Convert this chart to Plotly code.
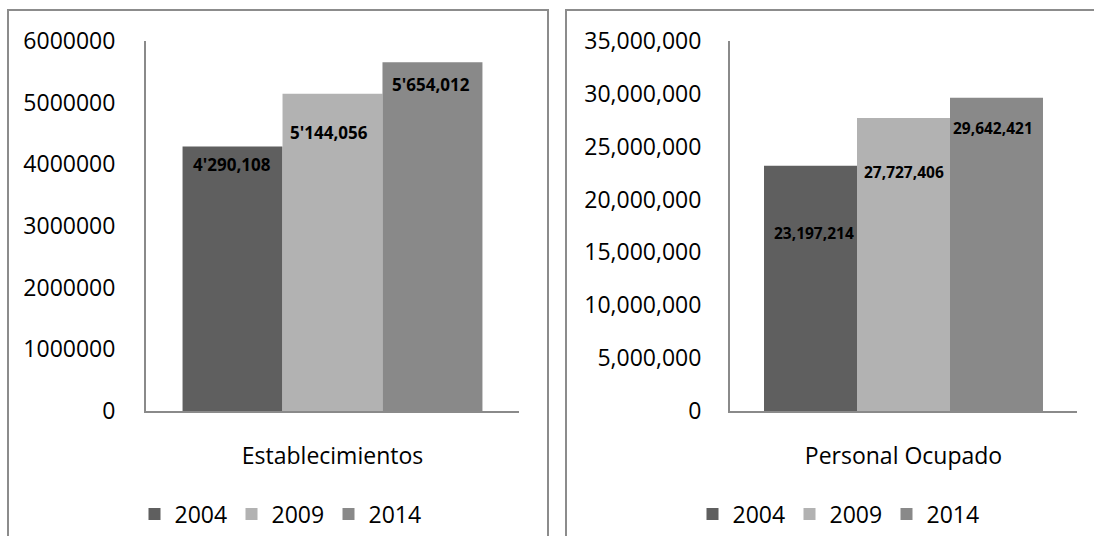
import plotly.graph_objects as go

# Data
years = ["2004", "2009", "2014"]
establecimientos = [4290108, 5144056, 5654012]
personal_ocupado = [23197214, 27727406, 29642421]
cat_left = "Establecimientos"
cat_right = "Personal Ocupado"
colors = ["#5f5f5f", "#b2b2b2", "#898989"]

W, H = 1094, 536
FONT = "Open Sans"


def px_x(p):
    return p / W


def px_y(p):
    return 1 - p / H


def fmt_apostrophe(v):
    s = f"{v:,}"
    return s.replace(",", "'", 1)


def fmt_commas(v):
    return f"{v:,}"


fig = go.Figure()

for i, yr in enumerate(years):
    fig.add_trace(go.Bar(
        x=[cat_left], y=[establecimientos[i]], name=yr,
        marker=dict(color=colors[i], line=dict(width=0)),
        xaxis="x", yaxis="y", legend="legend",
    ))
for i, yr in enumerate(years):
    fig.add_trace(go.Bar(
        x=[cat_right], y=[personal_ocupado[i]], name=yr,
        marker=dict(color=colors[i], line=dict(width=0)),
        xaxis="x2", yaxis="y2", legend="legend2",
    ))

# value labels placed inside the bars, near the top
left_shift = [(-1, -18), (-4, -39), (-2, -22)]
right_shift = [(3, -67), (0, -54), (-3, -30)]
annotations = []
for i in range(3):
    dx, dy = left_shift[i]
    annotations.append(dict(
        x=cat_left, y=establecimientos[i], xref="x", yref="y",
        text=fmt_apostrophe(establecimientos[i]), showarrow=False,
        xshift=(i - 1) * 100 + dx, yshift=dy,
        font=dict(family=FONT, size=17, color="#000000", weight="bold"),
    ))
for i in range(3):
    dx, dy = right_shift[i]
    annotations.append(dict(
        x=cat_right, y=personal_ocupado[i], xref="x2", yref="y2",
        text=fmt_commas(personal_ocupado[i]), showarrow=False,
        xshift=(i - 1) * 92.3 + dx, yshift=dy,
        font=dict(family=FONT, size=15.5, color="#000000", weight="bold"),
    ))

axis_line = "#8a8a8a"
tick_font = dict(family=FONT, size=23, color="#000000")
legend_common = dict(
    orientation="h", yref="container", y=px_y(514), yanchor="middle",
    font=dict(family=FONT, size=23, color="#000000"),
    bgcolor="rgba(0,0,0,0)", traceorder="normal",
    entrywidth=52, entrywidthmode="pixels",
)

fig.update_layout(
    template="none",
    width=W, height=H, autosize=False,
    margin=dict(l=0, r=0, t=0, b=0, autoexpand=False),
    paper_bgcolor="white", plot_bgcolor="white",
    barmode="group", bargap=0.196, bargroupgap=0,
    font=dict(family=FONT, color="#000000"),
    xaxis=dict(domain=[px_x(146), px_x(519)], anchor="y", automargin=False,
               showline=True, linecolor=axis_line, linewidth=2,
               ticks="outside", ticklen=23, tickcolor="rgba(0,0,0,0)",
               tickfont=tick_font, showgrid=False, fixedrange=True),
    yaxis=dict(domain=[px_y(411), px_y(41)], anchor="x", automargin=False,
               range=[0, 6000000], dtick=1000000, tickformat="d",
               showline=True, linecolor=axis_line, linewidth=2,
               ticks="outside", ticklen=24, tickcolor="rgba(0,0,0,0)",
               tickfont=tick_font, showgrid=False, zeroline=False, fixedrange=True),
    xaxis2=dict(domain=[px_x(730), px_x(1077)], anchor="y2", automargin=False,
                showline=True, linecolor=axis_line, linewidth=2,
                ticks="outside", ticklen=23, tickcolor="rgba(0,0,0,0)",
                tickfont=tick_font, showgrid=False, fixedrange=True),
    yaxis2=dict(domain=[px_y(411), px_y(41)], anchor="x2", automargin=False,
                range=[0, 35000000], dtick=5000000, tickformat=",d",
                showline=True, linecolor=axis_line, linewidth=2,
                ticks="outside", ticklen=22, tickcolor="rgba(0,0,0,0)",
                tickfont=tick_font, showgrid=False, zeroline=False, fixedrange=True),
    legend=dict(x=px_x(280), xanchor="center", **legend_common),
    legend2=dict(x=px_x(838), xanchor="center", **legend_common),
    annotations=annotations,
    shapes=[
        dict(type="rect", xref="paper", yref="paper",
             x0=px_x(8), x1=px_x(548), y0=-0.2, y1=px_y(10),
             line=dict(color="#8c8c8c", width=2), fillcolor="rgba(0,0,0,0)",
             layer="below"),
        dict(type="rect", xref="paper", yref="paper",
             x0=px_x(566), x1=px_x(1110), y0=-0.2, y1=px_y(10),
             line=dict(color="#8c8c8c", width=2), fillcolor="rgba(0,0,0,0)",
             layer="below"),
    ],
)

fig.write_html("out.html")
